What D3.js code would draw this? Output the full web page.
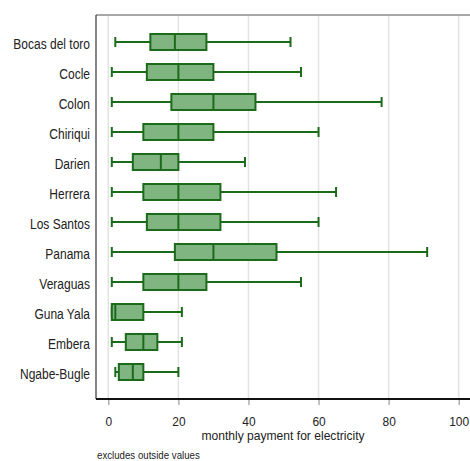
<!DOCTYPE html>
<html>
<head>
<meta charset="utf-8">
<script src="https://cdn.jsdelivr.net/npm/d3@7"></script>
<style>
  html, body { margin: 0; padding: 0; background: #fff; }
  svg { display: block; font-family: "Liberation Sans", Arial, sans-serif; }
</style>
</head>
<body>
<svg id="chart" width="470" height="461"></svg>
<script>
// Provinces / comarcas, top to bottom
const regions = ["Bocas del toro", "Cocle", "Colon", "Chiriqui", "Darien", "Herrera",
  "Los Santos", "Panama", "Veraguas", "Guna Yala", "Embera", "Ngabe-Bugle"];
// Box-plot statistics (monthly payment for electricity), outside values excluded
const whiskerLow  = [2, 1, 1, 1, 1, 1, 1, 1, 1, 1, 1, 2];
const quartile1   = [12, 11, 18, 10, 7, 10, 11, 19, 10, 1, 5, 3];
const medians     = [19, 20, 30, 20, 15, 20, 20, 30, 20, 2, 10, 7];
const quartile3   = [28, 30, 42, 30, 20, 32, 32, 48, 28, 10, 14, 10];
const whiskerHigh = [52, 55, 78, 60, 39, 65, 60, 91, 55, 21, 21, 20];
const xTicks = [0, 20, 40, 60, 80, 100];

const rows = regions.map((name, i) => ({
  name, lo: whiskerLow[i], q1: quartile1[i], med: medians[i], q3: quartile3[i], hi: whiskerHigh[i]
}));

const svg = d3.select("#chart");
const plotLeft = 96, plotTop = 15, plotBottom = 399, plotRight = 470;

const x = d3.scaleLinear().domain([0, 100]).range([108.3, 458.7]);
const y = d3.scalePoint().domain(regions).range([42, 372]);

const stroke = "#1b6b1b", fill = "#80b480", boxH = 16, capH = 10;

// vertical grid lines
svg.append("g").selectAll("line").data(xTicks).join("line")
  .attr("x1", d => x(d)).attr("x2", d => x(d))
  .attr("y1", plotTop).attr("y2", plotBottom)
  .attr("stroke", "#e3e3e3").attr("stroke-width", 1.5);

// frame: grey top edge, dark left axis
svg.append("line").attr("x1", plotLeft).attr("x2", plotRight)
  .attr("y1", plotTop).attr("y2", plotTop).attr("stroke", "#8a8a8a").attr("stroke-width", 1.5);
svg.append("line").attr("x1", plotLeft).attr("x2", plotLeft)
  .attr("y1", plotTop).attr("y2", plotBottom).attr("stroke", "#333").attr("stroke-width", 1.2);

// bottom axis
const xAxis = d3.axisBottom(x).tickValues(xTicks).tickSize(6).tickFormat(d3.format("d"));
const gx = svg.append("g").attr("transform", `translate(0,${plotBottom})`).call(xAxis);
gx.select(".domain").remove();
gx.selectAll(".tick line").attr("stroke", "#999").attr("stroke-width", 1.2);
gx.selectAll(".tick text")
  .attr("y", null).attr("dy", null)
  .attr("transform", "translate(0,26.5) scale(0.92,1)")
  .attr("fill", "#222").attr("font-size", 13);
svg.append("line").attr("x1", plotLeft).attr("x2", plotRight)
  .attr("y1", plotBottom).attr("y2", plotBottom).attr("stroke", "#111").attr("stroke-width", 1.8);

// category labels
svg.append("g").selectAll("text").data(regions).join("text")
  .attr("transform", d => `translate(90,${y(d) + 6.5}) scale(0.8,1)`)
  .attr("text-anchor", "end")
  .attr("font-size", 15).attr("fill", "#222").text(d => d);

// box plots
const g = svg.append("g").selectAll("g").data(rows).join("g")
  .attr("transform", d => `translate(0,${y(d.name)})`);

g.append("line").attr("x1", d => x(d.lo)).attr("x2", d => x(d.q1))
  .attr("stroke", stroke).attr("stroke-width", 2);
g.append("line").attr("x1", d => x(d.q3)).attr("x2", d => x(d.hi))
  .attr("stroke", stroke).attr("stroke-width", 2);
g.append("line").attr("x1", d => x(d.lo)).attr("x2", d => x(d.lo))
  .attr("y1", -capH / 2).attr("y2", capH / 2).attr("stroke", stroke).attr("stroke-width", 2);
g.append("line").attr("x1", d => x(d.hi)).attr("x2", d => x(d.hi))
  .attr("y1", -capH / 2).attr("y2", capH / 2).attr("stroke", stroke).attr("stroke-width", 2);
g.append("rect").attr("x", d => x(d.q1)).attr("width", d => x(d.q3) - x(d.q1))
  .attr("y", -boxH / 2).attr("height", boxH)
  .attr("fill", fill).attr("stroke", stroke).attr("stroke-width", 2);
g.append("line").attr("x1", d => x(d.med)).attr("x2", d => x(d.med))
  .attr("y1", -boxH / 2).attr("y2", boxH / 2).attr("stroke", stroke).attr("stroke-width", 2);

// axis title and note
svg.append("text").attr("transform", "translate(283,439.5) scale(0.93,1)")
  .attr("text-anchor", "middle").attr("font-size", 13).attr("fill", "#222")
  .text("monthly payment for electricity");
svg.append("text").attr("transform", "translate(97,459) scale(0.88,1)")
  .attr("font-size", 11).attr("fill", "#222")
  .text("excludes outside values");
</script>
</body>
</html>
